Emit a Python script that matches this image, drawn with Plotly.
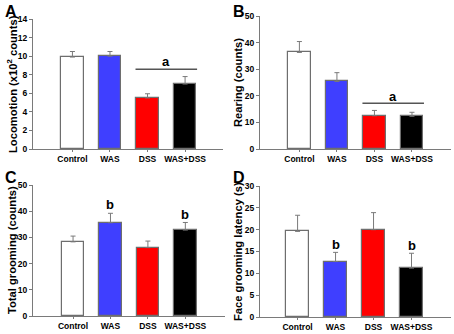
import plotly.graph_objects as go

W, H = 454, 334

categories = ["Control", "WAS", "DSS", "WAS+DSS"]
colors = ["#ffffff", "#3f3fff", "#ff0000", "#000000"]

loco_mean = [9.9, 10.0, 5.5, 7.0]
loco_err = [0.6, 0.5, 0.45, 0.8]

rear_mean = [36.3, 25.4, 12.5, 12.3]
rear_err = [4.1, 3.3, 2.0, 1.5]

groom_mean = [28.3, 35.6, 26.1, 32.8]
groom_err = [2.2, 3.6, 2.5, 2.9]

latency_mean = [19.6, 12.7, 20.0, 11.2]
latency_err = [3.7, 2.1, 3.9, 3.4]

panels = [
    dict(letter="A", mean=loco_mean, err=loco_err, ymax=14, dtick=2,
         title="Locomotion (x10<sup>2</sup> counts)",
         px=(33, 223), py=(149, 19), xr=(-1.05, 4.01), tx=12, lx=3, ly=1),
    dict(letter="B", mean=rear_mean, err=rear_err, ymax=50, dtick=10,
         title="Rearing (counts)",
         px=(260, 451), py=(149, 16), xr=(-1.05, 4.04), tx=237.5, lx=231, ly=1),
    dict(letter="C", mean=groom_mean, err=groom_err, ymax=50, dtick=10,
         title="Total grooming (counts)",
         px=(33, 225), py=(316, 185), xr=(-1.07, 4.06), tx=11.5, lx=3, ly=167),
    dict(letter="D", mean=latency_mean, err=latency_err, ymax=30, dtick=5,
         title="Face grooming latency (s)",
         px=(260, 451), py=(317, 186), xr=(-0.99, 4.04), tx=237.5, lx=231, ly=167),
]

sig_lines = {"A": (8.58, 9.45, "a"), "B": (17.2, 19.8, "a")}
sig_letters = {"C": [(1, 42.4), (3, 38.6)], "D": [(1, 16.6), (3, 16.4)]}

fig = go.Figure()
annotations = []
shapes = []
font = "Liberation Sans, Arial, sans-serif"

for i, p in enumerate(panels, start=1):
    xa = "x" if i == 1 else f"x{i}"
    ya = "y" if i == 1 else f"y{i}"
    fig.add_trace(go.Bar(
        x=list(range(len(categories))), y=p["mean"],
        width=0.6,
        marker=dict(color=colors, line=dict(color="#6e6e6e", width=1.2)),
        error_y=dict(type="data", array=p["err"], arrayminus=[0] * 4,
                     symmetric=False, color="#7a7a7a", thickness=1, width=2.5),
        xaxis=xa, yaxis=ya, showlegend=False,
    ))
    xd = [p["px"][0] / W, p["px"][1] / W]
    yd = [1 - p["py"][0] / H, 1 - p["py"][1] / H]
    axis_common = dict(showline=True, linecolor="#7a7a7a", linewidth=1,
                       showgrid=False, zeroline=False, automargin=False,
                       tickfont=dict(family=font, size=8.5, color="#000",
                                     weight="bold"))
    fig.layout[f"xaxis{'' if i == 1 else i}"] = dict(
        domain=xd, range=list(p["xr"]), anchor=ya,
        tickmode="array", tickvals=list(range(4)), ticktext=categories,
        ticks="outside", ticklen=2, tickcolor="#7a7a7a", **axis_common)
    fig.layout[f"yaxis{'' if i == 1 else i}"] = dict(
        domain=yd, range=[0, p["ymax"]], anchor=xa, dtick=p["dtick"],
        ticks="outside", ticklen=3, tickcolor="#7a7a7a", **axis_common)
    annotations.append(dict(
        text=p["title"], textangle=-90, xref="paper", yref="paper",
        x=p["tx"] / W, y=(yd[0] + yd[1]) / 2, showarrow=False,
        font=dict(family=font, size=11.2, color="#000", weight="bold"),
        xanchor="center", yanchor="middle"))
    annotations.append(dict(
        text=p["letter"], xref="paper", yref="paper",
        x=p["lx"] / W, y=1 - p["ly"] / H, showarrow=False,
        font=dict(family=font, size=16, color="#000", weight="bold"),
        xanchor="left", yanchor="top"))
    if p["letter"] in sig_lines:
        ly, ty, t = sig_lines[p["letter"]]
        shapes.append(dict(type="line", xref=xa, yref=ya,
                           x0=2 - 0.32, x1=3 + 0.32, y0=ly, y1=ly,
                           line=dict(color="#555", width=1.5)))
        annotations.append(dict(text=t, xref=xa, yref=ya,
                                x=2.5, y=ty, showarrow=False,
                                font=dict(family=font, size=13, color="#000",
                                          weight="bold")))
    if p["letter"] in sig_letters:
        for cx, cy in sig_letters[p["letter"]]:
            annotations.append(dict(text="b", xref=xa, yref=ya,
                                    x=cx, y=cy, showarrow=False,
                                    font=dict(family=font, size=13, color="#000",
                                              weight="bold")))

fig.update_layout(
    width=W, height=H, margin=dict(l=0, r=0, t=0, b=0),
    paper_bgcolor="white", plot_bgcolor="white",
    annotations=annotations, shapes=shapes, bargap=0,
)
fig.write_html("out.html", config={"displayModeBar": False},
               post_script="document.body.style.margin='0';document.body.style.overflow='hidden';")
